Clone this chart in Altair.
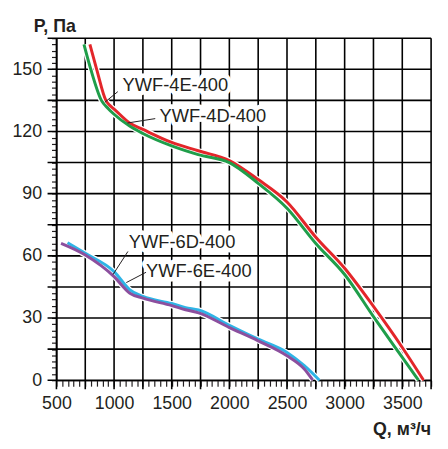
import altair as alt
import pandas as pd

# ---- data ----
series_names = ["YWF-4E-400", "YWF-4D-400", "YWF-6D-400", "YWF-6E-400"]
series_colors = ["#e3262a", "#1f9e4a", "#2fb4e6", "#8c4f9e"]

q_4e = [790, 849, 929, 962, 1000, 1135, 1250, 1500, 1730, 2000, 2250, 2500, 2750, 3000, 3250, 3500, 3685]
p_4e = [162, 150, 135, 132.6, 130.8, 124.1, 121, 114.7, 110.7, 106, 96.8, 86, 69, 54, 35.6, 15.8, 0]

q_4d = [739, 798, 890, 950, 1000, 1135, 1250, 1500, 1730, 2000, 2250, 2500, 2750, 3000, 3250, 3500, 3640]
p_4d = [162, 150, 135, 131, 128.3, 122.6, 119, 113, 108.8, 105, 95, 83, 66, 51, 30.7, 11, 0]

q_6d = [596, 750, 1000, 1137, 1250, 1500, 1620, 1733, 2000, 2250, 2500, 2650, 2781]
p_6d = [66.3, 61.2, 52.4, 43.6, 40.4, 37, 35, 33.9, 26.5, 19.8, 13.4, 7, 0]

q_6e = [540, 750, 1000, 1137, 1250, 1500, 1620, 1733, 2000, 2250, 2500, 2650, 2724]
p_6e = [66, 60.4, 50, 42, 39.6, 36, 34, 32.5, 25.4, 19, 11.8, 5.4, 0]

# annotation labels (left edge / middle) and leader lines, in data units
label_text = ["YWF-4E-400", "YWF-4D-400", "YWF-6D-400", "YWF-6E-400"]
label_q = [1074, 1395, 1128, 1277]
label_p = [142.6, 127.3, 66.8, 52.5]
leader_q1 = [920, 1117, 991, 1106]
leader_p1 = [134.1, 124.1, 51.0, 47.1]
leader_q2 = [1032, 1357, 1120, 1278]
leader_p2 = [139.2, 126.2, 62.1, 52.1]

x_ticks = list(range(500, 3751, 50))
y_ticks = list(range(0, 166, 3))
x_grid = list(range(500, 3751, 250))
y_grid = list(range(0, 166, 15))

# ---- tables ----
rows = []
for name, qs, ps in [("YWF-4E-400", q_4e, p_4e), ("YWF-4D-400", q_4d, p_4d),
                     ("YWF-6D-400", q_6d, p_6d), ("YWF-6E-400", q_6e, p_6e)]:
    for i, (q, p) in enumerate(zip(qs, ps)):
        rows.append({"series": name, "Q": q, "P": p, "order": i})
curves = pd.DataFrame(rows)
labels = pd.DataFrame({"text": label_text, "Q": label_q, "P": label_p})
leaders = pd.DataFrame({"Q": leader_q1, "P": leader_p1, "Q2": leader_q2, "P2": leader_p2})
gx = pd.DataFrame({"Q": x_grid, "P": [-4.3] * len(x_grid), "P2": [165.0] * len(x_grid)})
gy = pd.DataFrame({"P": y_grid, "Q": [423.0] * len(y_grid), "Q2": [3750.0] * len(y_grid)})

W, H = 379, 346
INK = "#231f20"
FONT = "Liberation Sans"

xscale = alt.Scale(domain=[500, 3750], nice=False, zero=False)
yscale = alt.Scale(domain=[0, 165], nice=False, zero=True)
xaxis = alt.Axis(values=x_ticks, format="d",
                 labelExpr="datum.value % 500 == 0 ? datum.label : ''",
                 title=None, grid=False, tickSize=6, labelPadding=9,
                 labelOverlap=False, labelFlush=False,
                 domainColor=INK, domainWidth=1.6, tickColor=INK, tickWidth=1.2,
                 labelFont=FONT, labelFontSize=18, labelColor=INK)
yaxis = alt.Axis(values=y_ticks, format="d",
                 labelExpr="datum.value % 30 == 0 ? datum.label : ''",
                 title=None, grid=False, tickSize=5, labelPadding=10,
                 labelOverlap=False, labelFlush=False,
                 domainColor=INK, domainWidth=1.6, tickColor=INK, tickWidth=1.2,
                 labelFont=FONT, labelFontSize=18, labelColor=INK)

X = alt.X("Q:Q", scale=xscale, axis=xaxis)
Y = alt.Y("P:Q", scale=yscale, axis=yaxis)
color = alt.Color("series:N", scale=alt.Scale(domain=series_names, range=series_colors), legend=None)

grid_x = alt.Chart(gx).mark_rule(color="black", strokeWidth=1.6, clip=False).encode(
    x=X, y=Y, y2="P2:Q")
grid_y = alt.Chart(gy).mark_rule(color="black", strokeWidth=1.6, clip=False).encode(
    x=X, x2="Q2:Q", y=Y)

halo = alt.Chart(curves).mark_line(strokeWidth=5.5, color="white", interpolate="monotone").encode(
    x=X, y=Y, detail="series:N", order="order:Q")
lines = alt.Chart(curves).mark_line(strokeWidth=3, interpolate="monotone").encode(
    x=X, y=Y, color=color, order="order:Q")

leader = alt.Chart(leaders).mark_rule(color=INK, strokeWidth=1).encode(
    x=X, y=Y, x2="Q2:Q", y2="P2:Q")

text_halo = alt.Chart(labels).mark_text(
    align="left", baseline="middle", font=FONT, fontSize=18.5,
    stroke="white", strokeWidth=9, strokeJoin="round", color="white").encode(
    x=X, y=Y, text="text:N")
text = alt.Chart(labels).mark_text(
    align="left", baseline="middle", font=FONT, fontSize=18.5, color=INK).encode(
    x=X, y=Y, text="text:N")

ytitle = alt.Chart(pd.DataFrame({"t": ["P, Па"]})).mark_text(
    align="left", baseline="alphabetic", font=FONT, fontSize=18, fontWeight="bold", color=INK).encode(
    x=alt.value(-23), y=alt.value(-6), text="t:N")
xtitle = alt.Chart(pd.DataFrame({"t": ["Q, м³/ч"]})).mark_text(
    align="right", baseline="alphabetic", font=FONT, fontSize=18, fontWeight="bold", color=INK).encode(
    x=alt.value(W), y=alt.value(H + 55), text="t:N")

chart = alt.layer(grid_x, grid_y, halo, lines, leader, text_halo, text, ytitle, xtitle).properties(
    width=W, height=H,
    padding={"left": 3, "top": 8, "right": 5, "bottom": 5},
).configure_view(strokeWidth=0)

chart.save("out.html", embed_options={"renderer": "svg", "actions": False})
